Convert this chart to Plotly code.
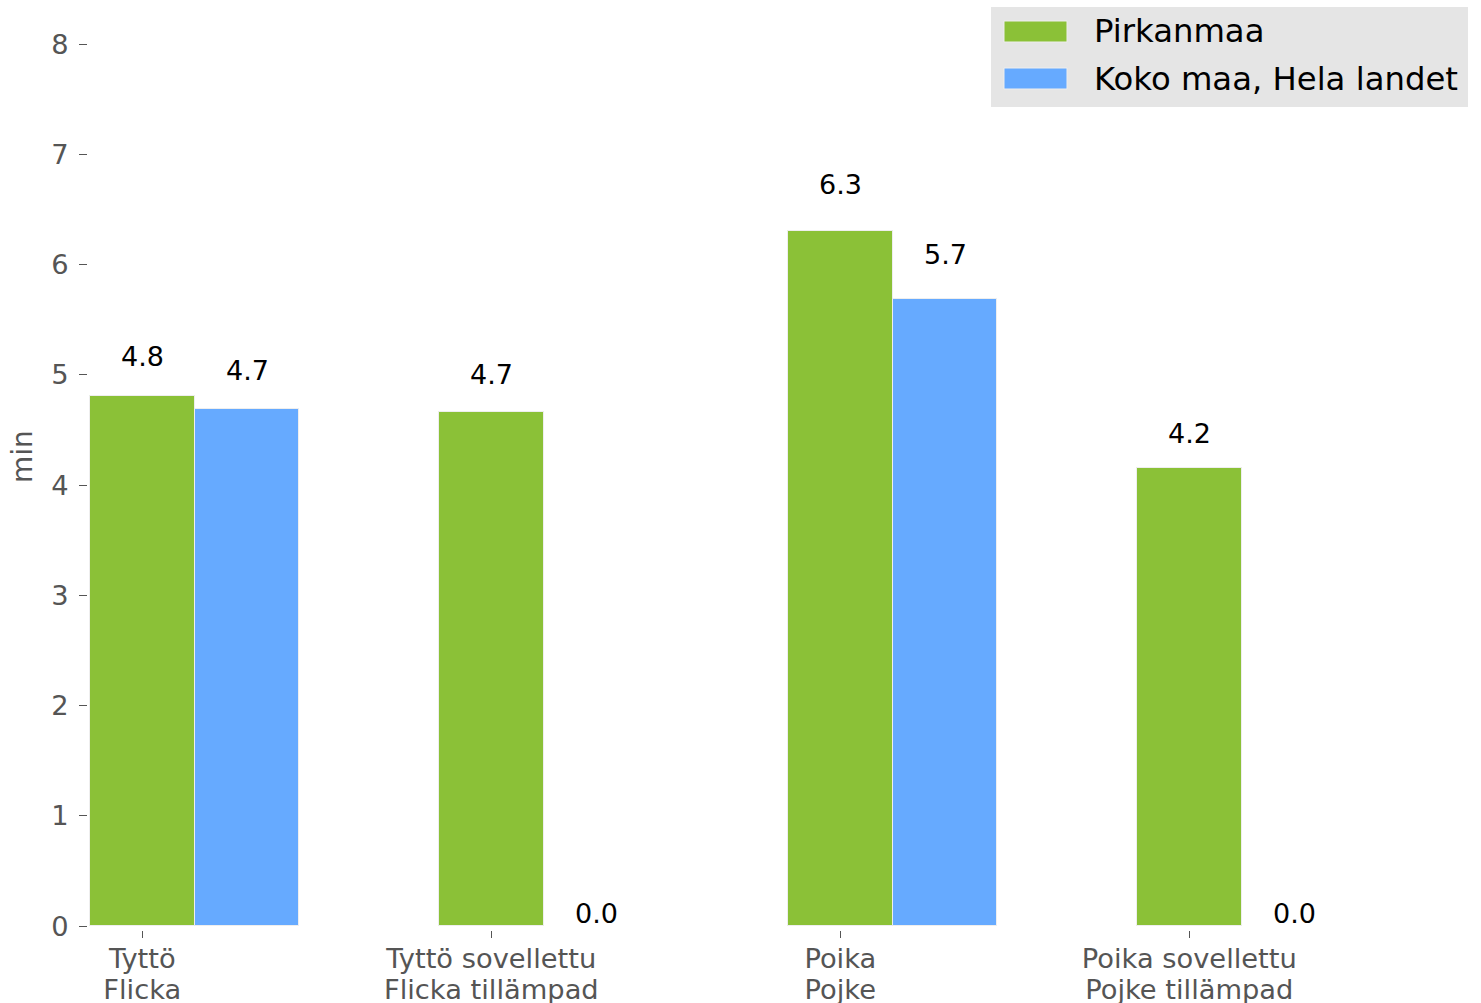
import plotly.graph_objects as go

# ---- data ----
categories = ["Tyttö<br>Flicka", "Tyttö sovellettu<br>Flicka tillämpad",
              "Poika<br>Pojke", "Poika sovellettu<br>Pojke tillämpad"]
series_names = ["Pirkanmaa", "Koko maa, Hela landet"]
pirkanmaa = [4.81, 4.66, 6.30, 4.15]
koko_maa = [4.69, 0.0, 5.69, 0.0]
y_ticks = [0, 1, 2, 3, 4, 5, 6, 7, 8]

colors = ["#8BC137", "#66AAFF"]
bar_w = 0.3
W, H = 1481, 1003
FONT = "DejaVu Sans"
TICK_SIZE = 27.3
ANN_SIZE = 27
LEG_SIZE = 32.3
GRAY = "#555555"

def px_x(p):
    return p / W

def px_y(p):
    return 1 - p / H

line1 = [c.split("<br>")[0] for c in categories]
line2 = [c.split("<br>")[1] for c in categories]

pos = list(range(len(categories)))
fig = go.Figure()
for k, (name, vals) in enumerate(zip(series_names, [pirkanmaa, koko_maa])):
    xs = [p + k * bar_w for p in pos]
    fig.add_trace(go.Bar(
        x=xs, y=vals, width=bar_w, name=name,
        marker=dict(color=colors[k],
                    line=dict(color="#eeeeee", width=[1 if v > 0 else 0 for v in vals])),
        showlegend=False, hoverinfo="y",
    ))
    for x, v in zip(xs, vals):
        fig.add_annotation(
            x=x, y=v * 1.05, xref="x", yref="y", text=f"{v:.1f}",
            showarrow=False, yanchor="bottom", xanchor="center", yshift=-5,
            font=dict(family=FONT, size=ANN_SIZE, color="#000000"),
        )

# invisible trace to activate the second-line label axis
fig.add_trace(go.Scatter(x=pos, y=[0] * len(pos), xaxis="x2", yaxis="y",
                         mode="markers", marker=dict(opacity=0),
                         showlegend=False, hoverinfo="skip"))

# manual legend
fig.add_shape(type="rect", xref="paper", yref="paper",
              x0=px_x(991), x1=px_x(1468), y0=px_y(107), y1=px_y(7),
              fillcolor="#e5e5e5", line=dict(width=0), layer="above")
rows = [(21, 42), (68, 89)]
for k, name in enumerate(series_names):
    t, b = rows[k]
    fig.add_shape(type="rect", xref="paper", yref="paper",
                  x0=px_x(1004), x1=px_x(1067), y0=px_y(b), y1=px_y(t),
                  fillcolor=colors[k], line=dict(color="#eeeeee", width=1), layer="above")
    fig.add_annotation(x=px_x(1092), y=px_y((t + b) / 2), xref="paper", yref="paper",
                       text=name, showarrow=False, xanchor="left", yanchor="middle",
                       font=dict(family=FONT, size=LEG_SIZE, color="#000000"))

# y-axis title
fig.add_annotation(x=px_x(22), y=px_y(457), xref="paper", yref="paper",
                   text="min", showarrow=False, textangle=-90,
                   xanchor="center", yanchor="middle",
                   font=dict(family=FONT, size=28, color=GRAY))

c0, step = 142.3, 349.0
x_left, x_right = 88, 1468
x_range = [(x_left - c0) / step, (x_right - c0) / step]
x_domain = [px_x(x_left), px_x(x_right)]
fig.update_layout(
    width=W, height=H,
    margin=dict(l=0, r=0, t=0, b=0, pad=0, autoexpand=False),
    paper_bgcolor="white", plot_bgcolor="white",
    barmode="overlay", bargap=0,
    font=dict(family=FONT),
    xaxis=dict(
        domain=x_domain, range=x_range,
        tickvals=pos, ticktext=line1,
        showgrid=False, zeroline=False, showline=False, automargin=False,
        ticks="outside", ticklen=7, tickwidth=1, tickcolor=GRAY,
        anchor="free", position=px_y(930), ticklabelstandoff=-3,
        tickfont=dict(family=FONT, size=TICK_SIZE, color=GRAY),
    ),
    xaxis2=dict(
        domain=x_domain, range=x_range, overlaying="x", matches="x",
        tickvals=pos, ticktext=line2,
        showgrid=False, zeroline=False, showline=False, automargin=False,
        ticks="", anchor="free", position=px_y(971), side="bottom",
        tickfont=dict(family=FONT, size=TICK_SIZE, color=GRAY),
    ),
    yaxis=dict(
        domain=[px_y(926), px_y(44)],
        range=[0, 8],
        tickvals=y_ticks,
        showgrid=False, zeroline=False, showline=False, automargin=False,
        ticks="outside", ticklen=8, tickwidth=1, tickcolor=GRAY,
        anchor="free", position=px_x(87),
        ticklabelstandoff=5,
        tickfont=dict(family=FONT, size=TICK_SIZE, color=GRAY),
    ),
)

fig.write_html("out.html", config={"displayModeBar": False},
               post_script="document.body.style.margin='0';document.body.style.overflow='hidden';")
